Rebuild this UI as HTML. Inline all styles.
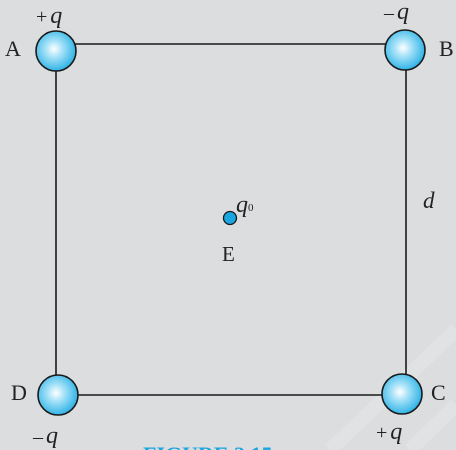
<!DOCTYPE html>
<html><head><meta charset="utf-8"><style>
html,body{margin:0;padding:0;background:#dcdddf;}
svg{display:block;}
text{font-family:"Liberation Serif",serif;fill:#222;}
</style></head><body>
<svg id="fig" width="456" height="450" viewBox="0 0 456 450">
<defs>
<radialGradient id="sph" cx="0.45" cy="0.45" r="0.6">
<stop offset="0" stop-color="#ffffff"/>
<stop offset="0.35" stop-color="#a6e2f8"/>
<stop offset="1" stop-color="#20ade4"/>
</radialGradient>
</defs>
<g stroke="#e6e7e8" stroke-width="14" opacity="0.5">
<line x1="330" y1="450" x2="456" y2="330"/>
<line x1="410" y1="450" x2="456" y2="405"/>
</g>
<g stroke="#1a1a1a" stroke-width="1.6">
<line x1="56" y1="44" x2="406" y2="44"/>
<line x1="406" y1="44" x2="406" y2="395"/>
<line x1="56" y1="395" x2="406" y2="395"/>
<line x1="56" y1="44" x2="56" y2="395"/>
</g>
<g id="charges"></g>
<circle cx="230" cy="218" r="6.5" fill="#1aa6e0" stroke="#1a1a1a" stroke-width="1.3"/>
<text x="236" y="212" font-size="24" font-style="italic">q<tspan font-size="11" font-style="normal" dy="-1">0</tspan></text>
<text x="222" y="261" font-size="21">E</text>
<text x="423" y="208" font-size="23" font-style="italic">d</text>
<text x="143" y="462" font-size="22" font-weight="bold" style="fill:#1ba5df">FIGURE 2.15</text>
</svg>
<script>
const labels = ["A","B","C","D"];
const signs = ["+","–","+","–"];
const cx = [56,405,402,58];
const cy = [51,50,394,395];
const labelPos = [[5,56],[439,56],[431,400],[11,400]];
const qPos = [[36,23],[384,19],[376,439],[33,443]];
const g = document.getElementById('charges');
const NS = "http://www.w3.org/2000/svg";
for (let i = 0; i < labels.length; i++) {
  const c = document.createElementNS(NS, 'circle');
  c.setAttribute('cx', cx[i]); c.setAttribute('cy', cy[i]); c.setAttribute('r', 20);
  c.setAttribute('fill', 'url(#sph)'); c.setAttribute('stroke', '#1a1a1a'); c.setAttribute('stroke-width', '1.6');
  
  
  g.appendChild(c);
  const t = document.createElementNS(NS, 'text');
  t.setAttribute('x', labelPos[i][0]); t.setAttribute('y', labelPos[i][1]); t.setAttribute('font-size', '22');
  t.textContent = labels[i];
  
  
  g.appendChild(t);
  const q = document.createElementNS(NS, 'text');
  q.setAttribute('x', qPos[i][0]); q.setAttribute('y', qPos[i][1]); q.setAttribute('font-size', '24');
  const s = document.createElementNS(NS, 'tspan'); s.setAttribute('font-size', '20'); s.textContent = signs[i];
  const v = document.createElementNS(NS, 'tspan'); v.setAttribute('font-style', 'italic'); v.setAttribute('dx', '3'); v.textContent = 'q';
  q.appendChild(s); q.appendChild(v);
  
  
  g.appendChild(q);
}
</script>
</body></html>
